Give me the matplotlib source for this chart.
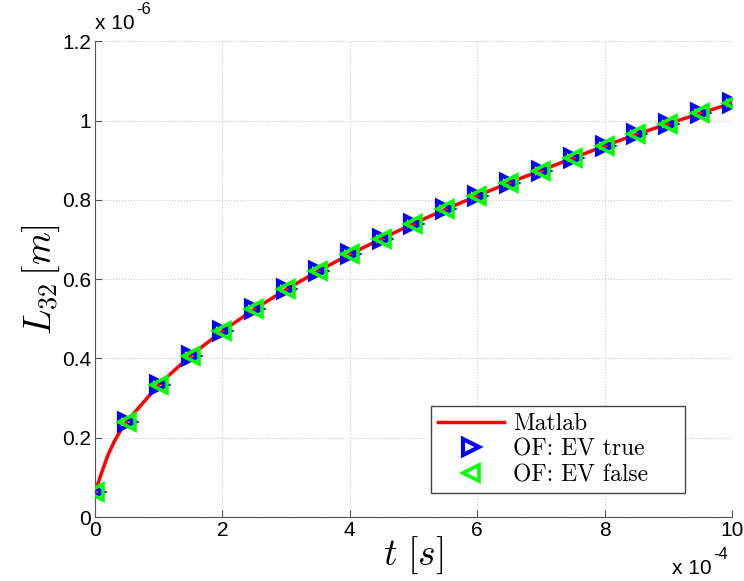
import matplotlib
matplotlib.use("Agg")
import matplotlib.pyplot as plt
from matplotlib.font_manager import FontProperties

plt.rcParams['mathtext.fontset'] = 'cm'
plt.rcParams['font.family'] = ['Liberation Sans', 'DejaVu Sans']

# time in units of 1e-4 s, length in units of 1e-6 m
t_line = [0.0, 0.1, 0.2, 0.3, 0.4, 0.5, 1.0, 1.5, 2.0, 2.5, 3.0, 3.5, 4.0, 4.5,
          5.0, 5.5, 6.0, 6.5, 7.0, 7.5, 8.0, 8.5, 9.0, 9.5, 10.0]
L_line = [0.063, 0.11, 0.155, 0.19, 0.218, 0.241, 0.334, 0.407, 0.469, 0.524,
          0.574, 0.620, 0.663, 0.702, 0.740, 0.776, 0.810, 0.843, 0.874, 0.905, 0.936,
          0.965, 0.992, 1.018, 1.044]

t_of = [0.0, 0.5, 1.0, 1.5, 2.0, 2.5, 3.0, 3.5, 4.0, 4.5, 5.0, 5.5, 6.0, 6.5, 7.0,
        7.5, 8.0, 8.5, 9.0, 9.5, 10.0]
L_ev_true = [0.063, 0.241, 0.334, 0.407, 0.469, 0.524, 0.574, 0.620, 0.663, 0.702,
             0.740, 0.776, 0.810, 0.843, 0.874, 0.905, 0.936, 0.965, 0.992, 1.018, 1.044]
L_ev_false = [0.063, 0.241, 0.334, 0.407, 0.469, 0.524, 0.574, 0.620, 0.663, 0.702,
              0.740, 0.776, 0.810, 0.843, 0.874, 0.905, 0.936, 0.965, 0.992, 1.018, 1.044]

series_labels = ['Matlab', 'OF: EV true', 'OF: EV false']
xticks = [0, 2, 4, 6, 8, 10]
yticks = [0, 0.2, 0.4, 0.6, 0.8, 1.0, 1.2]
yticklabels = ['0', '0.2', '0.4', '0.6', '0.8', '1', '1.2']

fig = plt.figure(figsize=(7.44, 5.81), dpi=100)
ax = fig.add_axes([0.1277, 0.110, 0.856, 0.819])

ax.plot(t_line, L_line, color='#ff0000', lw=2.5, label=series_labels[0], zorder=3)
ax.plot(t_of, L_ev_true, ls='none', marker='>', ms=11, mfc='none', mec='#0000ff',
        mew=3.0, label=series_labels[1], zorder=4)
ax.plot(t_of, L_ev_false, ls='none', marker='<', ms=12, mfc='none', mec='#00ff00',
        mew=2.6, label=series_labels[2], zorder=5)

ax.set_xlim(0, 10)
ax.set_ylim(0, 1.2)
ax.set_xticks(xticks)
ax.set_xticklabels([str(v) for v in xticks])
ax.set_yticks(yticks)
ax.set_yticklabels(yticklabels)
ax.tick_params(direction='in', length=5, labelsize=15, color='#555555', pad=3)
for s in ['top', 'right']:
    ax.spines[s].set_visible(False)
for s in ['left', 'bottom']:
    ax.spines[s].set_color('#555555')
ax.grid(True, ls=':', color='#c8c8c8', lw=0.8)
ax.set_axisbelow(True)

ax.set_xlabel(r'$t\ [s]$', fontsize=27, labelpad=-4)
ax.set_ylabel(r'$L_{32}\,[m]$', fontsize=27, labelpad=0)

fig.text(0.128, 0.943, 'x 10', fontsize=15, ha='left', va='bottom')
fig.text(0.183, 0.970, '-6', fontsize=12, ha='left', va='bottom')
fig.text(0.903, 0.005, 'x 10', fontsize=15, ha='left', va='bottom')
fig.text(0.958, 0.032, '-4', fontsize=12, ha='left', va='bottom')

leg = ax.legend(loc='lower left', bbox_to_anchor=(0.527, 0.05, 0.40, 0.18), mode='expand',
                prop=FontProperties(family=['cmr10', 'DejaVu Serif'], size=17),
                fancybox=False, framealpha=1, edgecolor='#444444',
                handlelength=2.8, borderpad=0.3, labelspacing=0.15, handletextpad=0.4,
                borderaxespad=0)
leg.get_frame().set_linewidth(1.0)

fig.savefig('out.png', dpi=100)
